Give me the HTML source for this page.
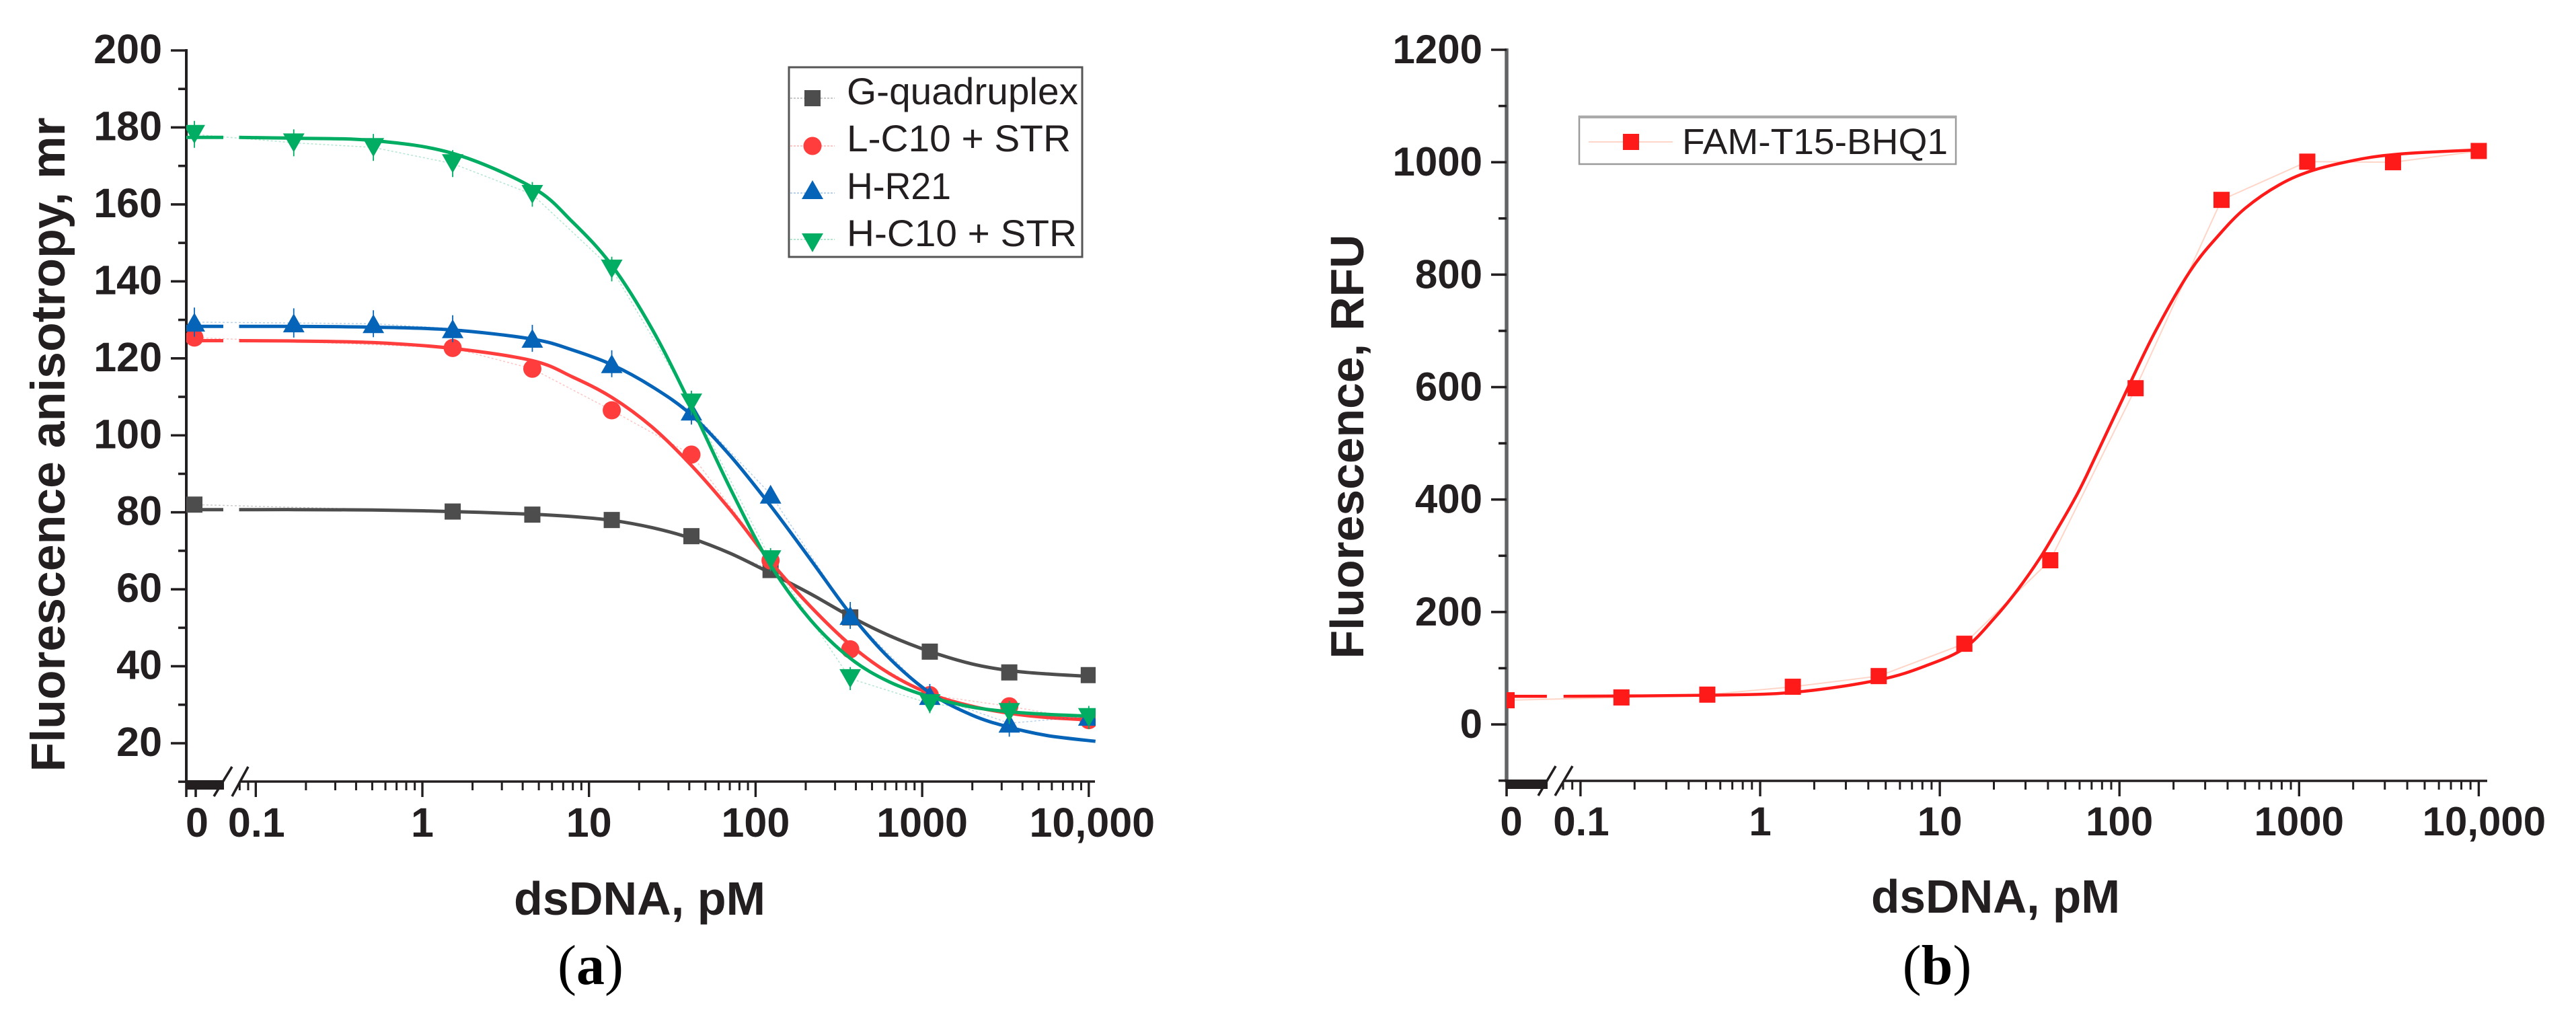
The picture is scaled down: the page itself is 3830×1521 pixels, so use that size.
<!DOCTYPE html>
<html lang="en">
<head>
<meta charset="utf-8">
<title>Fluorescence anisotropy and fluorescence vs dsDNA</title>
<style>
html,body{margin:0;padding:0;background:#fff;}
svg{display:block;}
text{font-family:"Liberation Sans",Arial,sans-serif;fill:#231f20;}
.serif{font-family:"Liberation Serif","Times New Roman",serif;fill:#000;}
</style>
</head>
<body>
<svg id="figure" xmlns="http://www.w3.org/2000/svg" width="3830" height="1521" viewBox="0 0 3830 1521">
  <defs>
    <clipPath id="clip-a"><rect x="277" y="60" width="1352" height="1100"/></clipPath>
    <clipPath id="clip-b"><rect x="2240" y="60" width="1458" height="1100"/></clipPath>
  </defs>
  <rect x="0" y="0" width="3830" height="1521" fill="#ffffff"/>

  <g id="panel-a">
    <g id="a-axes"></g>
    <g id="a-series" clip-path="url(#clip-a)"></g>
    <text transform="translate(96,661) rotate(-90)" text-anchor="middle" font-size="71" font-weight="700" textLength="973" lengthAdjust="spacingAndGlyphs">Fluorescence anisotropy, mr</text>
    <text x="951" y="1360" text-anchor="middle" font-size="70" font-weight="700" textLength="374" lengthAdjust="spacingAndGlyphs">dsDNA, pM</text>
    <text class="serif" x="878" y="1463" text-anchor="middle" font-size="84">(<tspan font-weight="700">a</tspan>)</text>

    <g>
      <rect x="1173" y="100" width="436" height="282" fill="#ffffff" stroke="#555555" stroke-width="3"/>
      <g>
        <line x1="1175" x2="1241" y1="146" y2="146" stroke="#4d4d4d" stroke-width="1.5" stroke-dasharray="3 2" opacity=".4"/>
        <rect x="1196" y="134" width="24" height="24" fill="#4d4d4d"/>
        <text x="1259" y="155" font-size="56" textLength="344" lengthAdjust="spacingAndGlyphs">G-quadruplex</text>
      </g>
      <g>
        <line x1="1175" x2="1241" y1="217" y2="217" stroke="#ff3d3d" stroke-width="1.5" stroke-dasharray="3 2" opacity=".4"/>
        <circle cx="1208" cy="217" r="13.5" fill="#ff3d3d"/>
        <text x="1259" y="225" font-size="56" textLength="333" lengthAdjust="spacingAndGlyphs">L-C10 + STR</text>
      </g>
      <g>
        <line x1="1175" x2="1241" y1="287" y2="287" stroke="#0563b8" stroke-width="1.5" stroke-dasharray="3 2" opacity=".4"/>
        <polygon points="1208,268 1224,296 1192,296" fill="#0563b8"/>
        <text x="1259" y="296" font-size="56" textLength="155" lengthAdjust="spacingAndGlyphs">H-R21</text>
      </g>
      <g>
        <line x1="1175" x2="1241" y1="356" y2="356" stroke="#00ad62" stroke-width="1.5" stroke-dasharray="3 2" opacity=".4"/>
        <polygon points="1192,347 1224,347 1208,375" fill="#00ad62"/>
        <text x="1259" y="366" font-size="56" textLength="342" lengthAdjust="spacingAndGlyphs">H-C10 + STR</text>
      </g>
    </g>
  </g>

  <g id="panel-b">
    <g id="b-axes"></g>
    <g id="b-series" clip-path="url(#clip-b)"></g>
    <text transform="translate(2027,664) rotate(-90)" text-anchor="middle" font-size="70" font-weight="700" textLength="631" lengthAdjust="spacingAndGlyphs">Fluorescence, RFU</text>
    <text x="2967" y="1357" text-anchor="middle" font-size="70" font-weight="700" textLength="370" lengthAdjust="spacingAndGlyphs">dsDNA, pM</text>
    <text class="serif" x="2880" y="1463" text-anchor="middle" font-size="84">(<tspan font-weight="700">b</tspan>)</text>

    <g>
      <rect x="2348" y="173" width="560" height="71" fill="#ffffff" stroke="#9a9a9a" stroke-width="2.5"/>
      <line x1="2348" x2="2908" y1="174" y2="174" stroke="#aaaaaa" stroke-width="4"/>
      <g>
        <line x1="2362" x2="2487" y1="211" y2="211" stroke="#ffd5c8" stroke-width="2"/>
        <rect x="2413" y="199" width="24" height="24" fill="#ff1a1a"/>
        <text x="2501" y="229" font-size="54" textLength="395" lengthAdjust="spacingAndGlyphs">FAM-T15-BHQ1</text>
      </g>
    </g>
  </g>
</svg>

<script>
// ---- measured data, shared x categories ----
const dilutionConc = [0, 0.169, 0.508, 1.52, 4.57, 13.7, 41.2, 123, 370, 1111, 3333, 10000];

// ---- panel a: measured points ----
const grayPoints  = [82, null, null, 80.2, 79.4, 78, 73.8, 65, 52.7, 43.8, 38.4, 37.7];
const redPoints   = [125.4, null, null, 122.7, 117.3, 106.5, 95, 67.5, 44.4, 32.5, 29.6, 26];
const bluePoints  = [129.4, 129.2, 129, 127.7, 125.2, 118.6, 106.3, 84.7, 53.2, 32.4, 25.2, 27];
const greenPoints = [178.2, 176, 174.8, 170.6, 162.6, 143.2, 108.4, 67.7, 36.8, 30.3, 28, 26.7];
const blueErrors  = [3.8, 3.8, 3.5, 3.5, 3.5, 3.5, 3.5, 1, 3.5, 3, 3.5, 1];
const greenErrors = [3.5, 3.5, 3.5, 3.5, 3.2, 3.2, 3.2, 3, 3, 2.5, 3, 3];

// ---- panel a: fitted curves ----
const aCurveConc = [0.038, 0.0638, 0.0794, 0.17, 0.5, 1.51, 4.57, 7.94, 13.8, 24, 40.7, 70.8, 123, 214, 372, 631, 1122, 1995, 3311, 5623, 10965];
const grayCurve  = [80.7, 80.7, 80.7, 80.7, 80.6, 80.2, 79.5, 78.9, 77.9, 76, 73.3, 69.3, 64.2, 58.8, 52.9, 48, 43.8, 40.6, 38.9, 38, 37.3];
const redCurve   = [124.6, 124.6, 124.6, 124.5, 124.1, 122.6, 119.4, 115.2, 109.8, 102.1, 92.4, 80.5, 67.2, 55.5, 45.5, 38.2, 32.8, 29.6, 27.8, 26.7, 26];
const blueCurve  = [128.3, 128.3, 128.3, 128.3, 128.1, 127.4, 125, 122.2, 118.3, 112.6, 105.5, 94.6, 81.7, 67.7, 53.5, 42.2, 33, 27.3, 24.2, 22, 20.5];
const greenCurve = [177.4, 177.4, 177.4, 177.2, 176.6, 173.3, 164.4, 155.5, 144, 127.5, 108, 86, 66.3, 52, 42, 36, 32, 29.4, 28.2, 27.5, 27];

// ---- panel b: measured points and fitted curve ----
const famPoints = [43, 48, 53, 67, 86, 143.5, 292, 598, 933, 1001, 1000, 1020];
const bCurveConc = [0.0394, 0.065, 0.0805, 0.51, 1.53, 4.56, 8.63, 13.9, 20.5, 27.2, 36.1, 45.6, 55.6, 66.1, 110, 159, 247, 352, 501, 778, 1208, 2228, 3459, 5370, 10000];
const famCurve = [50, 50, 50, 52, 57, 79, 106, 137, 192, 240, 296, 350, 398, 445, 595, 700, 806, 868, 918, 960, 986, 1006, 1014, 1018, 1022];

// ---- ticks ----
const xTickValues = [0.1, 1, 10, 100, 1000, 10000];
const xTickLabels = ['0.1', '1', '10', '100', '1000', '10,000'];
const aYTickValues = [20, 40, 60, 80, 100, 120, 140, 160, 180, 200];
const aYTickLabels = ['20', '40', '60', '80', '100', '120', '140', '160', '180', '200'];
const aYMinorValues = [10, 30, 50, 70, 90, 110, 130, 150, 170, 190];
const bYTickValues = [0, 200, 400, 600, 800, 1000, 1200];
const bYTickLabels = ['0', '200', '400', '600', '800', '1000', '1200'];
const bYMinorValues = [-100, 100, 300, 500, 700, 900, 1100];
const xMinorMultipliers = [2, 3, 4, 5, 6, 7, 8, 9];
const xMinorDecades = [0.1, 1, 10, 100, 1000];
const xBelowBreakMinors = [0.08, 0.09];

// ---- axis functions ----
function aX(c) { return c === 0 ? 289 : 628 + 247.7 * Math.log10(c); }
function aY(v) { return 75 + (200 - v) * 5.7225; }
function bX(c) { return c === 0 ? 2240 : 2617 + 267.1 * Math.log10(c); }
function bY(v) { return 74 + (1200 - v) * 0.8359; }

const NS = 'http://www.w3.org/2000/svg';
function mk(parent, tag, props, text) {
  const el = document.createElementNS(NS, tag);
  for (const k in props) el.setAttribute(k, props[k]);
  if (text !== undefined) el.textContent = text;
  parent.appendChild(el);
  return el;
}

function smoothPath(pts) {
  let d = 'M' + pts[0][0].toFixed(1) + ' ' + pts[0][1].toFixed(1);
  for (let i = 0; i < pts.length - 1; i++) {
    const p0 = pts[Math.max(0, i - 1)], p1 = pts[i], p2 = pts[i + 1], p3 = pts[Math.min(pts.length - 1, i + 2)];
    const c1x = p1[0] + (p2[0] - p0[0]) / 6, c1y = p1[1] + (p2[1] - p0[1]) / 6;
    const c2x = p2[0] - (p3[0] - p1[0]) / 6, c2y = p2[1] - (p3[1] - p1[1]) / 6;
    d += 'C' + c1x.toFixed(1) + ' ' + c1y.toFixed(1) + ' ' + c2x.toFixed(1) + ' ' + c2y.toFixed(1) + ' ' + p2[0].toFixed(1) + ' ' + p2[1].toFixed(1);
  }
  return d;
}

function drawAxes(g, o) {
  const ink = '#231f20';
  // y axis
  const yAxis = mk(g, 'line', {x1: o.axisX, x2: o.axisX, y1: o.y(o.yMax) - 2, y2: o.axisY + 2, stroke: o.yAxisColor, 'stroke-width': o.yAxisWidth});
  
  
  o.yTicks.forEach(function (v, i) {
    const t = mk(g, 'line', {x1: o.axisX - 23, x2: o.axisX, y1: o.y(v), y2: o.y(v), stroke: ink, 'stroke-width': 3.6});
    
    
    const l = mk(g, 'text', {x: o.yLabelRight, y: o.y(v) + o.yLabelDy, 'text-anchor': 'end', 'font-size': o.tickFont, 'font-weight': 700}, o.yLabels[i]);
    
    
  });
  o.yMinor.forEach(function (v) {
    const t = mk(g, 'line', {x1: o.axisX - 12, x2: o.axisX, y1: o.y(v), y2: o.y(v), stroke: ink, 'stroke-width': 3.6});
    
    
  });
  // x axis: segment after the break
  const xAxis = mk(g, 'line', {x1: o.resumeX, x2: o.axisEnd, y1: o.axisY, y2: o.axisY, stroke: ink, 'stroke-width': 3.6});
  
  
  // x axis: solid zero section before the break
  const bar = mk(g, 'rect', {x: o.axisX - 1, y: o.axisY - 2, width: o.barEnd - o.axisX + 1, height: 14, fill: ink});
  
  
  o.zeroTicks.forEach(function (x) {
    const t = mk(g, 'line', {x1: x, x2: x, y1: o.axisY, y2: o.axisY + 23, stroke: ink, 'stroke-width': 3.6});
    
    
  });
  // break marks
  o.slashes.forEach(function (s) {
    const m = mk(g, 'line', {x1: s[0], y1: o.axisY - 22, x2: s[1], y2: o.axisY + 22, stroke: ink, 'stroke-width': 3.6});
    
    
  });
  // log ticks
  xTickValues.forEach(function (v, i) {
    const t = mk(g, 'line', {x1: o.x(v), x2: o.x(v), y1: o.axisY, y2: o.axisY + 23, stroke: ink, 'stroke-width': 3.4});
    
    
    const off = i === xTickValues.length - 1 ? o.lastLabelDx : (i === 0 ? 1 : 0);
    const l = mk(g, 'text', {x: o.x(v) + off, y: o.xLabelY, 'text-anchor': 'middle', 'font-size': o.tickFont, 'font-weight': 700}, xTickLabels[i]);
    
    
  });
  const zl = mk(g, 'text', {x: o.zeroLabelX, y: o.xLabelY, 'text-anchor': 'middle', 'font-size': o.tickFont, 'font-weight': 700}, '0');
  
  
  const minors = xBelowBreakMinors.slice();
  xMinorDecades.forEach(function (d) {
    xMinorMultipliers.forEach(function (m) { minors.push(d * m); });
  });
  minors.forEach(function (v) {
    const t = mk(g, 'line', {x1: o.x(v), x2: o.x(v), y1: o.axisY, y2: o.axisY + 13, stroke: ink, 'stroke-width': 3});
    
    
  });
}

function drawCurve(g, x, y, concs, vals, color, width, breakConc) {
  const before = [], after = [];
  concs.forEach(function (c, i) {
    (c < breakConc ? before : after).push([x(c), y(vals[i])]);
  });
  const p1 = mk(g, 'path', {d: smoothPath(before), fill: 'none', stroke: color, 'stroke-width': width});
  
  
  const p2 = mk(g, 'path', {d: smoothPath(after), fill: 'none', stroke: color, 'stroke-width': width, 'stroke-linejoin': 'round'});
  
  
}

function drawConnector(g, x, y, vals, color, width, dash, op) {
  const pts = [];
  vals.forEach(function (v, i) {
    if (v !== null) pts.push(x(dilutionConc[i]).toFixed(1) + ',' + y(v).toFixed(1));
  });
  const c = mk(g, 'polyline', {points: pts.join(' '), fill: 'none', stroke: color, 'stroke-width': width, 'stroke-dasharray': dash, opacity: op});
  
  
}

function drawMarker(g, shape, cx, cy, color) {
  let m;
  if (shape === 'square') {
    m = mk(g, 'rect', {x: cx - 12, y: cy - 12, width: 24, height: 24, fill: color});
  } else if (shape === 'circle') {
    m = mk(g, 'circle', {cx: cx, cy: cy, r: 13.5, fill: color});
  } else if (shape === 'up') {
    m = mk(g, 'polygon', {points: cx + ',' + (cy - 14) + ' ' + (cx + 16) + ',' + (cy + 14) + ' ' + (cx - 16) + ',' + (cy + 14), fill: color});
  } else {
    m = mk(g, 'polygon', {points: (cx - 16) + ',' + (cy - 14) + ' ' + (cx + 16) + ',' + (cy - 14) + ' ' + cx + ',' + (cy + 14), fill: color});
  }
  
  
}

function drawSeries(g, x, y, points, errors, curveConc, curve, shape, color, width, breakConc) {
  drawConnector(g, x, y, points, color, 1.5, '3 3', 0.3);
  points.forEach(function (v, i) {
    if (v === null) return;
    const cx = x(dilutionConc[i]), cy = y(v);
    if (errors) {
      const eb = mk(g, 'line', {x1: cx, x2: cx, y1: y(v + errors[i]), y2: y(v - errors[i]), stroke: color, 'stroke-width': 1.8});
      
      
    }
    drawMarker(g, shape, cx, cy, color);
  });
  drawCurve(g, x, y, curveConc, curve, color, width, breakConc);
}

// ---- panel a ----
drawAxes(document.getElementById('a-axes'), {
  x: aX, y: aY, axisX: 277, axisY: 1162, axisEnd: 1628, yMax: 200,
  yAxisColor: '#231f20', yAxisWidth: 4,
  yTicks: aYTickValues, yLabels: aYTickLabels, yMinor: aYMinorValues,
  yLabelRight: 241, yLabelDy: 19, tickFont: 61,
  resumeX: 356, barEnd: 333, zeroTicks: [277, 291], slashes: [[345, 318], [369, 345]],
  xLabelY: 1244, zeroLabelX: 293, lastLabelDx: 5
});
const aSeries = document.getElementById('a-series');
drawSeries(aSeries, aX, aY, grayPoints, null, aCurveConc, grayCurve, 'square', '#4d4d4d', 5, 0.07);
drawSeries(aSeries, aX, aY, redPoints, null, aCurveConc, redCurve, 'circle', '#ff3d3d', 5, 0.07);
drawSeries(aSeries, aX, aY, bluePoints, blueErrors, aCurveConc, blueCurve, 'up', '#0563b8', 5, 0.07);
drawSeries(aSeries, aX, aY, greenPoints, greenErrors, aCurveConc, greenCurve, 'down', '#00ad62', 5, 0.07);

// ---- panel b ----
drawAxes(document.getElementById('b-axes'), {
  x: bX, y: bY, axisX: 2240, axisY: 1161, axisEnd: 3698, yMax: 1200,
  yAxisColor: '#626466', yAxisWidth: 5.5,
  yTicks: bYTickValues, yLabels: bYTickLabels, yMinor: bYMinorValues,
  yLabelRight: 2204, yLabelDy: 20, tickFont: 60,
  resumeX: 2326, barEnd: 2301, zeroTicks: [2240], slashes: [[2313, 2287], [2338, 2312]],
  xLabelY: 1242, zeroLabelX: 2247, lastLabelDx: 8
});
const bSeries = document.getElementById('b-series');
drawConnector(bSeries, bX, bY, famPoints, '#ffd5c8', 2, 'none', 1);
famPoints.forEach(function (v, i) {
  drawMarker(bSeries, 'square', bX(dilutionConc[i]), bY(v), '#ff1a1a');
});
drawCurve(bSeries, bX, bY, bCurveConc, famCurve, '#ff1a1a', 4.5, 0.07);
</script>
</body>
</html>
